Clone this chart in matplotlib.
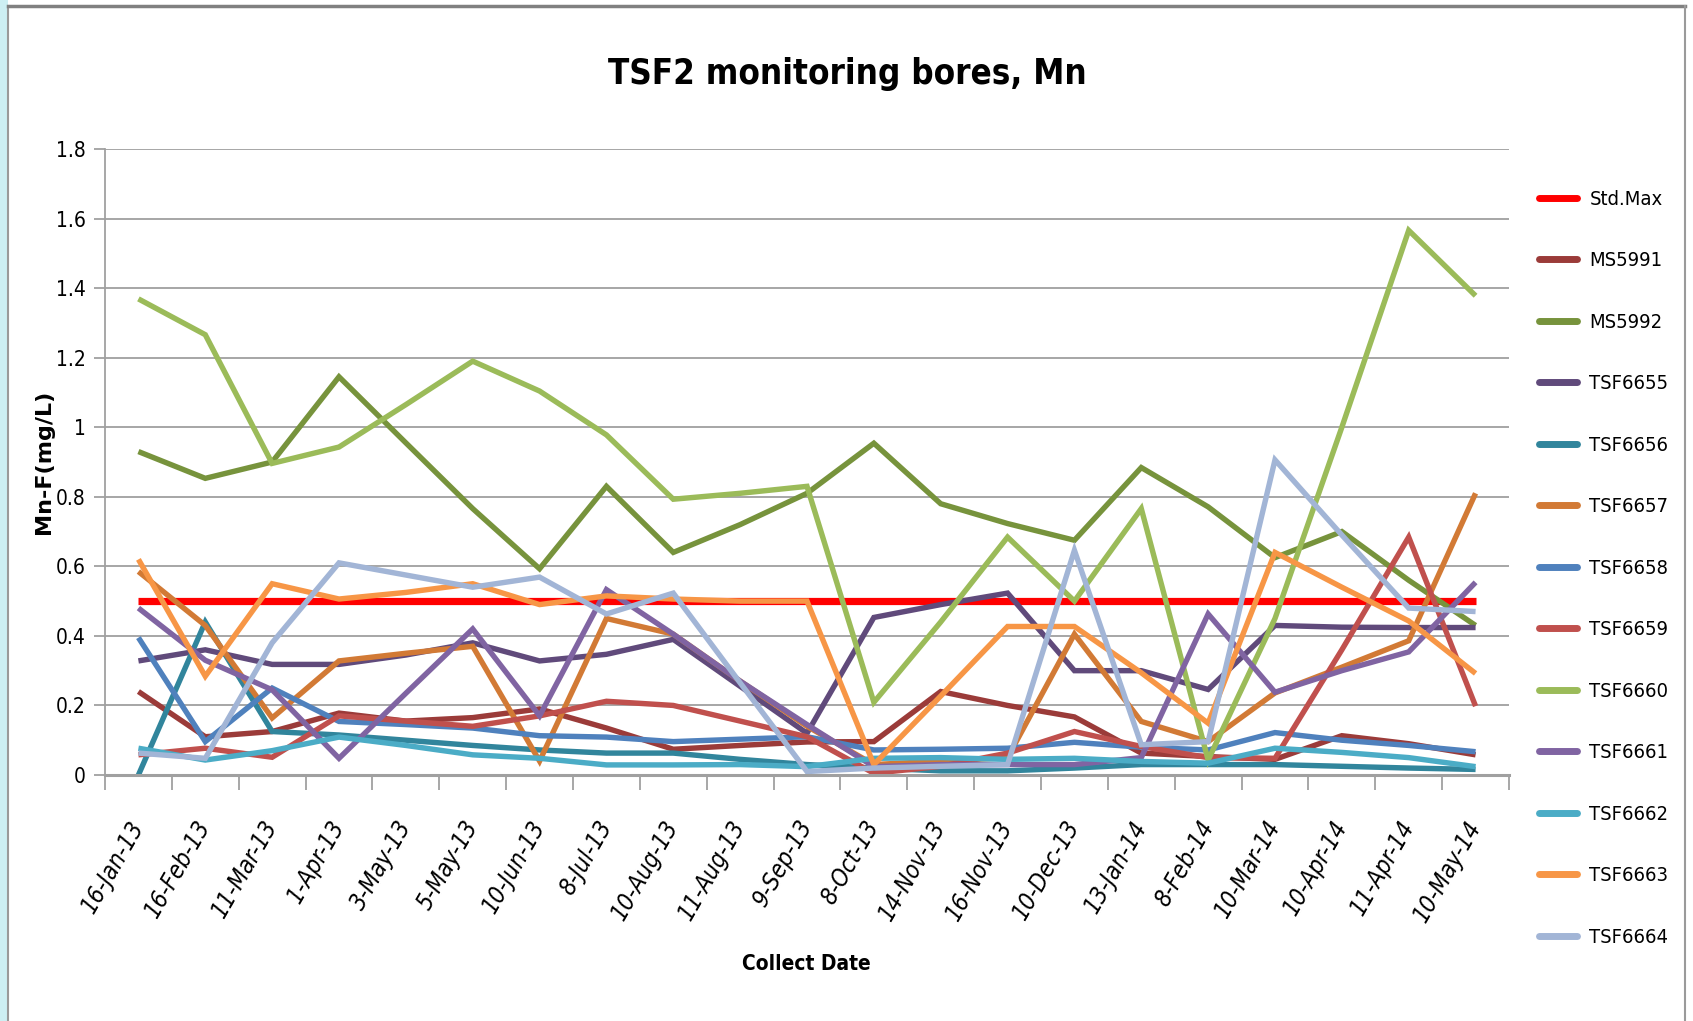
import matplotlib
matplotlib.use("Agg")
import matplotlib.pyplot as plt
from matplotlib import font_manager as fm
from matplotlib.patches import Rectangle
from matplotlib.lines import Line2D

# ---------------- data ----------------
dates = ['16-Jan-13', '16-Feb-13', '11-Mar-13', '1-Apr-13', '3-May-13', '5-May-13',
         '10-Jun-13', '8-Jul-13', '10-Aug-13', '11-Aug-13', '9-Sep-13', '8-Oct-13',
         '14-Nov-13', '16-Nov-13', '10-Dec-13', '13-Jan-14', '8-Feb-14', '10-Mar-14',
         '10-Apr-14', '11-Apr-14', '10-May-14']

std_max = [0.5, 0.5, 0.5, 0.5, 0.5, 0.5, 0.5, 0.5, 0.5, 0.5, 0.5,
           0.5, 0.5, 0.5, 0.5, 0.5, 0.5, 0.5, 0.5, 0.5, 0.5]
ms5991 = [0.24, 0.11, 0.125, 0.178, 0.155, 0.165, 0.19, 0.135, 0.074, 0.085, 0.095,
          0.096, 0.24, 0.20, 0.167, 0.063, 0.053, 0.045, 0.113, 0.09, 0.058]
ms5992 = [0.93, 0.853, 0.90, 1.145, 0.955, 0.766, 0.593, 0.83, 0.64, 0.72, 0.81,
          0.954, 0.78, 0.723, 0.675, 0.884, 0.771, 0.625, 0.70, 0.56, 0.43]
tsf6655 = [0.328, 0.36, 0.318, 0.318, 0.345, 0.38, 0.328, 0.347, 0.39, 0.255, 0.12,
           0.453, 0.49, 0.523, 0.30, 0.30, 0.246, 0.43, 0.425, 0.424, 0.424]
tsf6656 = [0.0, 0.44, 0.125, 0.115, 0.10, 0.085, 0.072, 0.063, 0.063, 0.045, 0.03,
           0.02, 0.012, 0.012, 0.02, 0.03, 0.03, 0.03, 0.025, 0.02, 0.016]
tsf6657 = [0.585, 0.43, 0.164, 0.328, 0.35, 0.37, 0.04, 0.45, 0.405, 0.27, 0.14,
           0.03, 0.04, 0.05, 0.405, 0.154, 0.096, 0.236, 0.31, 0.386, 0.81]
tsf6658 = [0.395, 0.096, 0.25, 0.154, 0.145, 0.135, 0.113, 0.109, 0.096, 0.103, 0.11,
           0.072, 0.074, 0.077, 0.094, 0.08, 0.072, 0.122, 0.10, 0.085, 0.067]
tsf6659 = [0.058, 0.077, 0.051, 0.17, 0.155, 0.14, 0.17, 0.212, 0.20, 0.155, 0.11,
           0.005, 0.025, 0.063, 0.125, 0.082, 0.05, 0.048, 0.36, 0.684, 0.198]
tsf6660 = [1.369, 1.266, 0.896, 0.943, 1.065, 1.19, 1.104, 0.978, 0.793, 0.81, 0.83,
           0.209, 0.44, 0.684, 0.50, 0.766, 0.043, 0.45, 1.0, 1.566, 1.378]
tsf6661 = [0.48, 0.33, 0.245, 0.048, 0.235, 0.42, 0.17, 0.533, 0.405, 0.27, 0.145,
           0.024, 0.03, 0.03, 0.03, 0.05, 0.463, 0.238, 0.30, 0.354, 0.554]
tsf6662 = [0.077, 0.043, 0.07, 0.109, 0.085, 0.058, 0.048, 0.029, 0.029, 0.03, 0.024,
           0.048, 0.05, 0.045, 0.048, 0.039, 0.034, 0.077, 0.065, 0.05, 0.024]
tsf6663 = [0.62, 0.284, 0.55, 0.506, 0.525, 0.55, 0.49, 0.515, 0.506, 0.50, 0.50,
           0.03, 0.227, 0.427, 0.427, 0.294, 0.149, 0.64, 0.54, 0.443, 0.292]
tsf6664 = [0.063, 0.048, 0.38, 0.61, 0.575, 0.54, 0.569, 0.463, 0.523, 0.265, 0.01,
           0.02, 0.025, 0.03, 0.646, 0.087, 0.096, 0.906, 0.69, 0.48, 0.47]

series_names = ['Std.Max', 'MS5991', 'MS5992', 'TSF6655', 'TSF6656', 'TSF6657', 'TSF6658',
                'TSF6659', 'TSF6660', 'TSF6661', 'TSF6662', 'TSF6663', 'TSF6664']
series_values = [std_max, ms5991, ms5992, tsf6655, tsf6656, tsf6657, tsf6658,
                 tsf6659, tsf6660, tsf6661, tsf6662, tsf6663, tsf6664]
series_colors = ['#FF0000', '#9B3B39', '#77933C', '#604A7B', '#31859C', '#D27A35', '#4F81BD',
                 '#C0504D', '#9BBB59', '#8064A2', '#4BACC6', '#F79646', '#A2B5D6']

y_ticks = [0, 0.2, 0.4, 0.6, 0.8, 1.0, 1.2, 1.4, 1.6, 1.8]
y_ticklabels = ['0', '0.2', '0.4', '0.6', '0.8', '1', '1.2', '1.4', '1.6', '1.8']

# ---------------- fonts ----------------
cond = [f for f in fm.fontManager.ttflist
        if f.name == 'DejaVu Sans' and 'Condensed' in f.fname]
if cond:
    plt.rcParams['font.family'] = ['DejaVu Sans']
    plt.rcParams['font.stretch'] = 'condensed'
    k = 1.0
else:
    plt.rcParams['font.family'] = ['Liberation Sans', 'DejaVu Sans']
    k = 0.88

W, H = 1693, 1021
fig = plt.figure(figsize=(W / 100, H / 100), dpi=100)
fig.patch.set_facecolor('white')

# outer frame decoration
fig.add_artist(Rectangle((0, 0), 8 / W, 1, transform=fig.transFigure,
                         facecolor='#CDEFF3', edgecolor='none', zorder=0))
fig.add_artist(Line2D([8 / W, 8 / W], [0, 1 - 6 / H], transform=fig.transFigure,
                      color='#9A9A9A', lw=1.5))
fig.add_artist(Line2D([8 / W, 1685 / W], [1 - 6 / H, 1 - 6 / H], transform=fig.transFigure,
                      color='#808080', lw=2.5))
fig.add_artist(Line2D([1685 / W, 1685 / W], [0, 1 - 6 / H], transform=fig.transFigure,
                      color='#9A9A9A', lw=1.5))

left, right, top, bottom = 105, 1509, 149, 775
ax = fig.add_axes([left / W, 1 - bottom / H, (right - left) / W, (bottom - top) / H])

x = list(range(len(dates)))
for name, vals, col in zip(series_names, series_values, series_colors):
    lw = 5.2 if name == 'Std.Max' else 3.9
    ax.plot(x, vals, color=col, lw=lw, label=name, solid_joinstyle='miter',
            solid_capstyle='butt')

ax.set_xlim(-0.5, len(dates) - 0.5)
ax.set_ylim(0, 1.8)
ax.set_yticks(y_ticks)
ax.set_yticklabels(y_ticklabels, fontsize=15 * k)
ax.yaxis.grid(True, color='#A6A6A6', lw=1.4)
ax.set_axisbelow(True)

ax.set_xticks(x)
ax.set_xticklabels(dates, rotation=60, ha='right', va='center', rotation_mode='anchor',
                   fontsize=17 * k, style='italic')
ax.tick_params(axis='x', which='major', length=0, pad=34)
ax.set_xticks([i - 0.5 for i in range(len(dates) + 1)], minor=True)
ax.tick_params(axis='x', which='minor', length=11, width=1.3, color='#A0A0A0', direction='out')
ax.tick_params(axis='y', which='major', length=8, width=1.3, color='#A0A0A0', direction='out', pad=6)

for s in ['top', 'right']:
    ax.spines[s].set_visible(False)
ax.spines['left'].set_color('#A0A0A0')
ax.spines['left'].set_linewidth(1.3)
ax.spines['bottom'].set_color('#A0A0A0')
ax.spines['bottom'].set_linewidth(2.2)

fig.text(847 / W, 1 - 74 / H, 'TSF2 monitoring bores, Mn', ha='center', va='center',
         fontsize=25 * k, fontweight='bold')
fig.text(806 / W, 1 - 964 / H, 'Collect Date', ha='center', va='center',
         fontsize=15 * k, fontweight='bold')
fig.text(44 / W, 1 - 462 / H, 'Mn-F(mg/L)', ha='center', va='center', rotation=90,
         fontsize=16, fontweight='bold', family=['DejaVu Sans'], fontstretch='normal')

handles, labels = ax.get_legend_handles_labels()
leg = fig.legend(handles, labels, loc='upper left',
                 bbox_to_anchor=(1539 / W, 1 - 190 / H),
                 frameon=False, fontsize=14.5 * k, handlelength=1.9, handletextpad=0.6,
                 labelspacing=2.11 / k, borderpad=0, borderaxespad=0)
for lh in leg.get_lines():
    lh.set_linewidth(5)
    lh.set_solid_capstyle('round')

fig.savefig('out.png', dpi=100, facecolor='white')
